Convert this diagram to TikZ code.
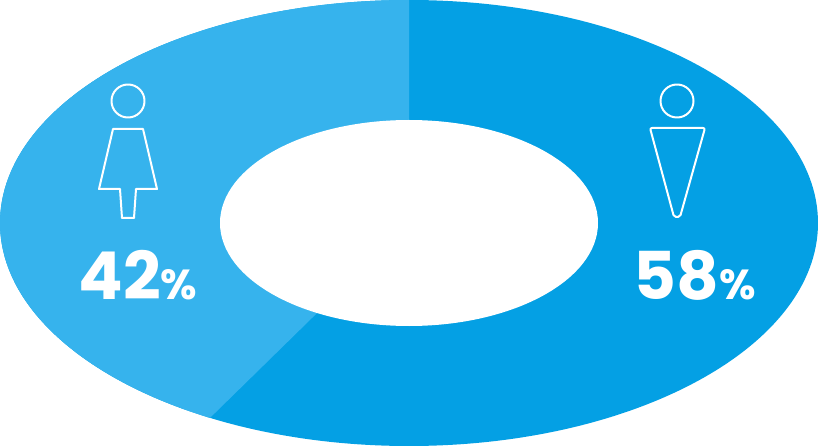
\documentclass[tikz,border=0pt]{standalone}
\usepackage{fontspec}
\setmainfont{Poppins}
\definecolor{darkb}{HTML}{04A0E4}
\definecolor{lightb}{HTML}{36B3ED}
\tikzset{icon/.style={draw=white,line width=2pt,line join=round},
pct/.style={text=white,font=\bfseries,inner sep=0pt,anchor=base}}
\begin{document}
\begin{tikzpicture}[x=1pt,y=-1pt]
\useasboundingbox (0,0) rectangle (818,446);
\fill[darkb] (409,223) ellipse [x radius=409,y radius=223];
\begin{scope}
\clip (409,223) -- (409,-10) -- (-10,-10) -- (-10,460) -- (167,460) -- cycle;
\fill[lightb] (409,223) ellipse [x radius=409,y radius=223];
\end{scope}
\fill[white] (409,223) ellipse [x radius=189,y radius=103];
% female
\draw[icon] (128,101) circle (16.5);
\draw[icon] (113,129) -- (143,129) -- (157,189) -- (136,189) -- (134,218) -- (122,218) -- (120,189) -- (99,189) -- cycle;
% male
\draw[icon] (677,101) circle (16.5);
\draw[icon,rounded corners=2pt] (650,128) -- (705,128) -- (680,217) -- (674,217) -- cycle;
\node[pct] (f) at (138,299) {\fontsize{66}{66}\selectfont 42\fontsize{42}{42}\selectfont\%};
\node[pct] (m) at (695,299) {\fontsize{66}{66}\selectfont 58\fontsize{42}{42}\selectfont\%};
\end{tikzpicture}
\end{document}
